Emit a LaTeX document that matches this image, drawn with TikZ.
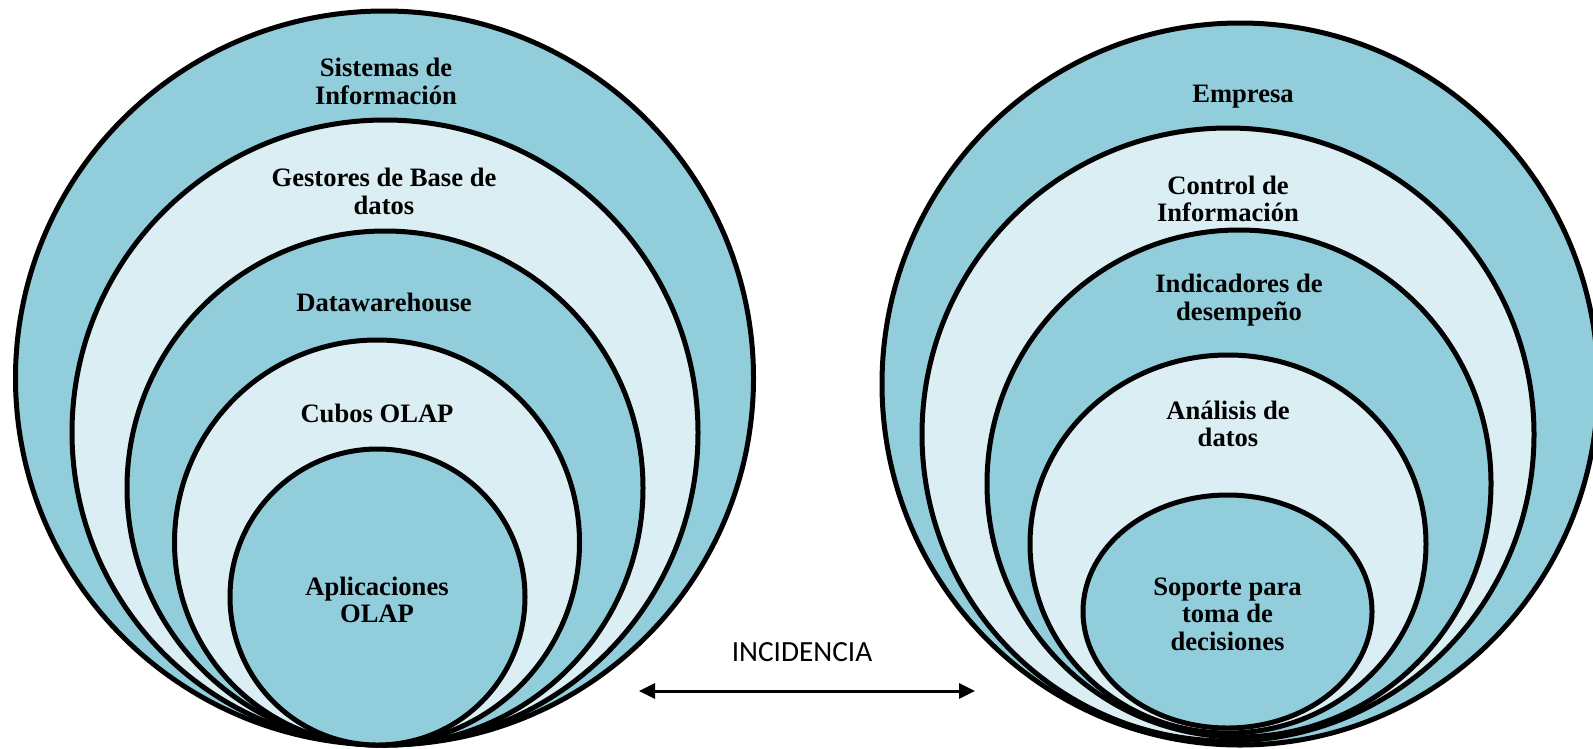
\documentclass[tikz,border=0pt]{standalone}
\usepackage{fontspec}
\setmainfont{Liberation Serif}
\newfontfamily\ringserif{Liberation Serif}
\newfontfamily\captionsans{Carlito}
\usetikzlibrary{shapes.geometric,arrows.meta}
\definecolor{bandDark}{HTML}{92CDDC}
\definecolor{bandLight}{HTML}{DAEEF3}
\begin{document}
\begin{tikzpicture}[x=1pt,y=-1pt,
  ring/.style={ellipse, draw=black, line width=5pt, inner sep=0pt, outer sep=0pt},
  darkring/.style={ring, fill=bandDark},
  lightring/.style={ring, fill=bandLight},
  lbl/.style={font=\ringserif\bfseries\fontsize{26.6}{27.5}\selectfont, align=center, inner sep=0pt},
  incid/.style={font=\captionsans\fontsize{29.3}{30}\selectfont, inner sep=0pt},
  twoway/.style={{Triangle[length=16pt,width=15pt]}-{Triangle[length=16pt,width=15pt]}, line width=3pt},
]
\useasboundingbox (0,0) rectangle (1593,748);

% left family of nested rings
\node[darkring,  minimum width=738pt, minimum height=734pt] (sis) at (384.5,378) {};
\node[lightring, minimum width=626pt, minimum height=625pt] (ges) at (385,432.5) {};
\node[darkring,  minimum width=516pt, minimum height=514pt] (dw)  at (385,488) {};
\node[lightring, minimum width=405pt, minimum height=405pt] (cub) at (377,542.5) {};
\node[darkring,  minimum width=295pt, minimum height=296pt] (apl) at (377.5,597) {};

% right family of nested rings
\node[darkring,  minimum width=716pt, minimum height=722pt] (emp) at (1240,384) {};
\node[lightring, minimum width=612pt, minimum height=613pt] (ctl) at (1228,434.5) {};
\node[darkring,  minimum width=504pt, minimum height=507pt] (ind) at (1239,483.5) {};
\node[lightring, minimum width=396pt, minimum height=378pt] (ana) at (1228,544) {};
\node[darkring,  minimum width=289pt, minimum height=233pt] (sop) at (1227.5,611.5) {};

% ring labels, left
\node[lbl] (sisT) at (386,81.5)  {Sistemas de\\Información};
\node[lbl] (gesT) at (384,191.5) {Gestores de Base de\\datos};
\node[lbl] (dwT)  at (384,302)   {Datawarehouse};
\node[lbl] (cubT) at (377,413.5) {Cubos OLAP};
\node[lbl] (aplT) at (377,600)   {Aplicaciones\\OLAP};

% ring labels, right
\node[lbl] (empT) at (1243,97)    {Empresa};
\node[lbl] (ctlT) at (1228,199)   {Control de\\Información};
\node[lbl] (indT) at (1239,300)   {Indicadores de\\desempeño};
\node[lbl] (anaT) at (1228,424)   {Análisis de\\datos};
\node[lbl] (sopT) at (1227.5,614) {Soporte para\\toma de\\decisiones};

% relation between both families
\node[incid] (inc) at (802,652) {INCIDENCIA};
\coordinate (arrL) at (639,691);
\coordinate (arrR) at (975,691);
\draw[twoway] (arrL) -- (arrR);
\end{tikzpicture}
\end{document}
